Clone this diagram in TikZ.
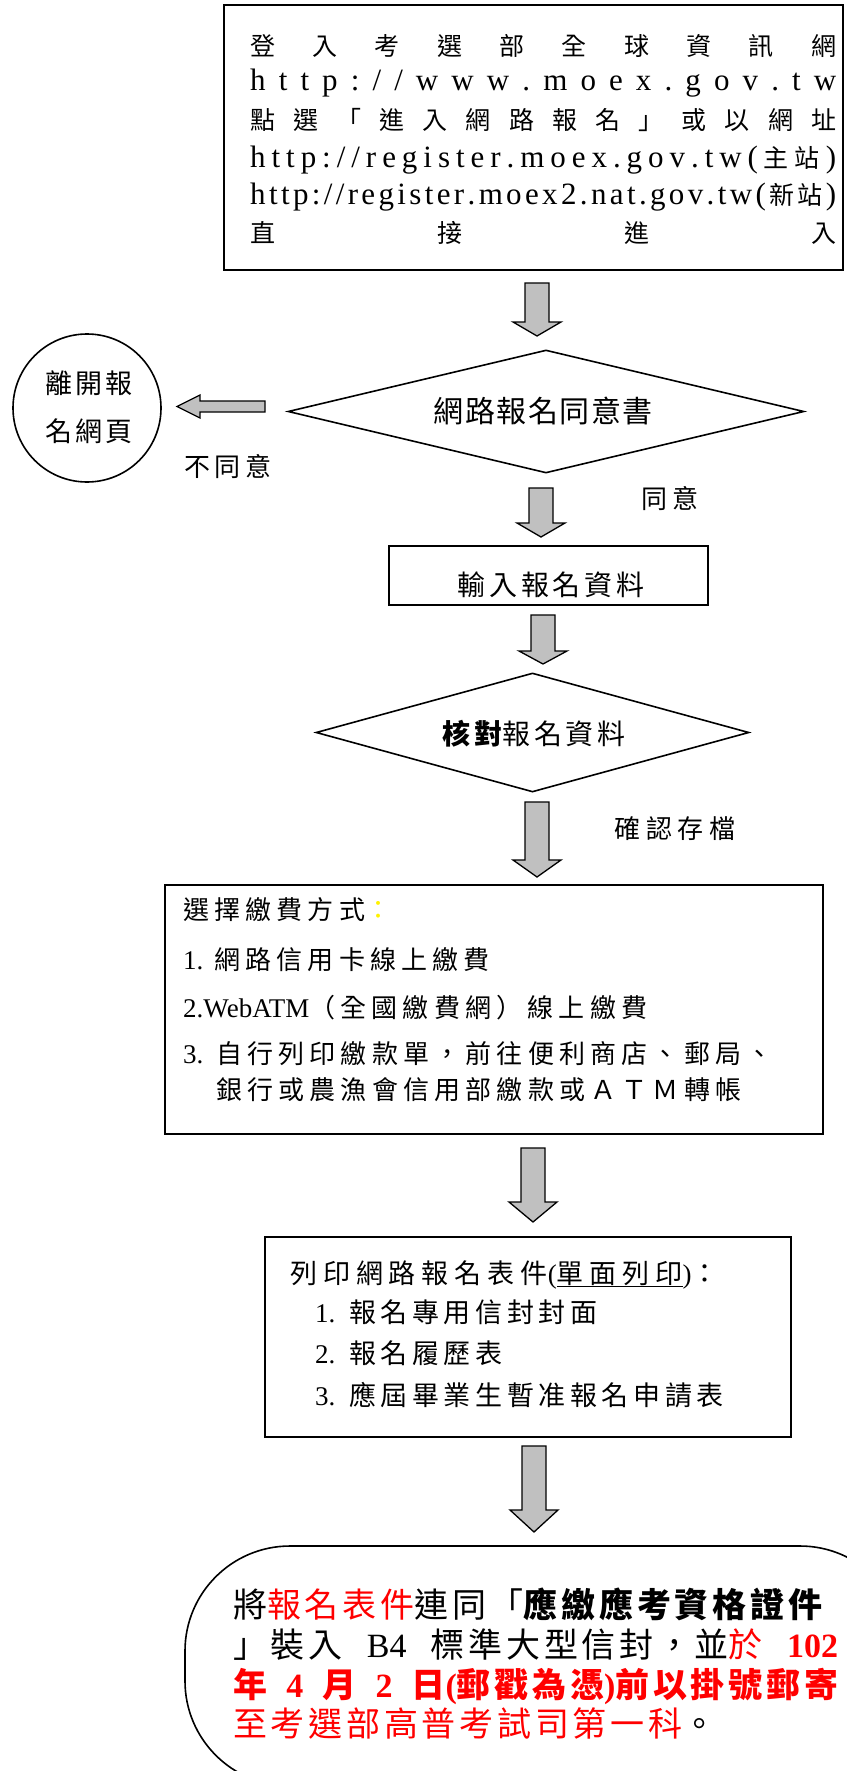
\documentclass[tikz,border=0pt]{standalone}
\usepackage{fontspec}
\setmainfont{Noto Sans CJK TC}
\newfontfamily\lat{Liberation Serif}
\usetikzlibrary{shapes.geometric}
\definecolor{arrgray}{RGB}{192,192,192}

\newcommand\fs[2]{\fontsize{#1}{#1}\selectfont\addfontfeature{LetterSpace=#2}}
\newcommand\lt{\lat\fontsize{31}{31}\selectfont}
\newcommand\cjs{\rmfamily\fontsize{25}{25}\selectfont}
% spread the characters of a line over the whole width
\newcommand\spr[1]{\sprA#1\relax}
\def\sprA#1{#1\sprB}
\def\sprB#1{\ifx\relax#1\else\hfil#1\expandafter\sprB\fi}
% grey block arrow pointing down: x, top, head base, tip
\newcommand\blkdown[4]{%
  \draw[blk] (#1-12,#2) -- (#1+12,#2) -- (#1+12,#3) -- (#1+24,#3) -- (#1,#4)
    -- (#1-24,#3) -- (#1-12,#3) -- cycle;}

\tikzset{
  flowbox/.style={draw, line width=1.6pt, inner sep=0pt},
  blk/.style={draw, fill=arrgray, line width=1.3pt},
  txt/.style={inner sep=0pt, anchor=base west},
  ctxt/.style={inner sep=0pt, anchor=base},
}

\begin{document}
\begin{tikzpicture}[x=1pt,y=-1pt]
	\useasboundingbox (0,0) rectangle (846,1771);

	% login box
	\node[flowbox, minimum width=619pt, minimum height=265pt] (login) at (533.5,137.5) {};
	\node[txt, font=\fs{25}{0}] (l1) at (250,56) {\makebox[586pt][s]{\spr{登入考選部全球資訊網}}};
	\node[txt] (l2) at (250,91) {\lt\makebox[586pt][s]{\spr{http://www.moex.gov.tw}}};
	\node[txt, font=\fs{25}{0}] (l3) at (250,130) {\makebox[586pt][s]{\spr{點選「進入網路報名」或以網址}}};
	\node[txt] (l4) at (250,168) {\makebox[586pt][s]{\lt\spr{http://register.moex.gov.tw(}\hfil{\cjs 主\hfil 站}\hfil)}};
	\node[txt] (l5) at (250,205) {\makebox[586pt][s]{\lt\spr{http://register.moex2.nat.gov.tw(}\hfil{\cjs 新\hfil 站}\hfil)}};
	\node[txt, font=\fs{25}{0}] (l6) at (250,243) {\makebox[586pt][s]{\spr{直接進入}}};

	\blkdown{537}{283}{322}{336}

	% agreement
	\node[flowbox, diamond, minimum width=516pt, minimum height=123pt] (agree) at (546,411.5) {};
	\node[ctxt, font=\fs{30}{5}] (agreet) at (543,422) {網路報名同意書};

	\node[flowbox, circle, minimum size=148pt] (leave) at (87,408) {};
	\node[ctxt, font=\fs{27}{11}] (leave1) at (89,393) {離開報};
	\node[ctxt, font=\fs{27}{11}] (leave2) at (89,441) {名網頁};

	\draw[blk] (265,401) -- (265,412) -- (200,412) -- (200,418) -- (177,406.5)
		-- (200,395) -- (200,401) -- cycle;
	\node[ctxt, font=\fs{26}{17}] (no) at (228,476) {不同意};
	\node[ctxt, font=\fs{26}{17}] (yes) at (670,508) {同意};

	\blkdown{541}{488}{523}{537}

	\node[flowbox, minimum width=319pt, minimum height=59pt] (input) at (548.5,575.5) {};
	\node[ctxt, font=\fs{28}{13}] (inputt) at (551,595) {輸入報名資料};

	\blkdown{543}{615}{651}{664}

	\node[flowbox, diamond, minimum width=433pt, minimum height=119pt] (check) at (532.5,732.5) {};
	\node[ctxt, font=\fs{28}{13}] (checkt) at (534,744) {{\bfseries 核對}報名資料};

	\blkdown{537}{802}{860}{877}
	\node[ctxt, font=\fs{26}{21}] (save) at (675,838) {確認存檔};

	% payment
	\node[flowbox, minimum width=658pt, minimum height=249pt] (pay) at (494,1009.5) {};
	\node[txt, font=\fs{26}{20}] (p1) at (183,919) {選擇繳費方式{\color{yellow}：}};
	\node[txt, font=\fs{26}{20}] (p2) at (183,969) {\makebox[31pt][l]{\lat\fontsize{27}{27}\selectfont 1.}網路信用卡線上繳費};
	\node[txt, font=\fs{26}{20}] (p3) at (183,1017) {{\lat\fontsize{27}{27}\selectfont 2.WebATM}（全國繳費網）線上繳費};
	\node[txt, font=\fs{26}{20}] (p4) at (183,1063) {\makebox[33pt][l]{\lat\fontsize{27}{27}\selectfont 3.}自行列印繳款單，前往便利商店、郵局、};
	\node[txt, font=\fs{26}{20}] (p5) at (216,1099) {銀行或農漁會信用部繳款或ＡＴＭ轉帳};

	\blkdown{533}{1148}{1202}{1222}

	% print
	\node[flowbox, minimum width=526pt, minimum height=200pt] (print) at (528,1337) {};
	\node[txt, font=\fs{27}{22}] (r1) at (290,1283) {列印網路報名表件{\lat(}\underline{單面列印}{\lat)}：};
	\node[txt, font=\fs{27}{17}] (r2) at (315,1322) {\makebox[34pt][l]{\lat 1.}報名專用信封封面};
	\node[txt, font=\fs{27}{17}] (r3) at (315,1363) {\makebox[34pt][l]{\lat 2.}報名履歷表};
	\node[txt, font=\fs{27}{17}] (r4) at (315,1405) {\makebox[34pt][l]{\lat 3.}應屆畢業生暫准報名申請表};

	\blkdown{534}{1446}{1510}{1532}

	% mail
	\node[flowbox, rounded corners=105pt, minimum width=720pt, minimum height=240pt] (mail) at (545,1666) {};
	\node[txt, font=\fs{34}{11}] (m1) at (233,1617) {\makebox[605pt][s]{將{\color{red}報名表件}連同「{\bfseries 應繳應考資格證件}}};
	\node[txt, font=\fs{34}{11}] (m2) at (233,1657) {\makebox[605pt][s]{」裝入\hfil{\lat B4}\hfil 標準大型信封，並{\color{red}於}\hfil{\color{red}\lat\bfseries 102}}};
	\node[txt, font=\fs{34}{11}] (m3) at (233,1697) {\color{red}\bfseries\makebox[605pt][s]{年\hfil{\lat 4}\hfil 月\hfil{\lat 2}\hfil 日{\lat(}郵戳為憑{\lat)}前以掛號郵寄}};
	\node[txt, font=\fs{34}{11}] (m4) at (233,1736) {{\color{red}至考選部高普考試司第一科}。};
\end{tikzpicture}
\end{document}
